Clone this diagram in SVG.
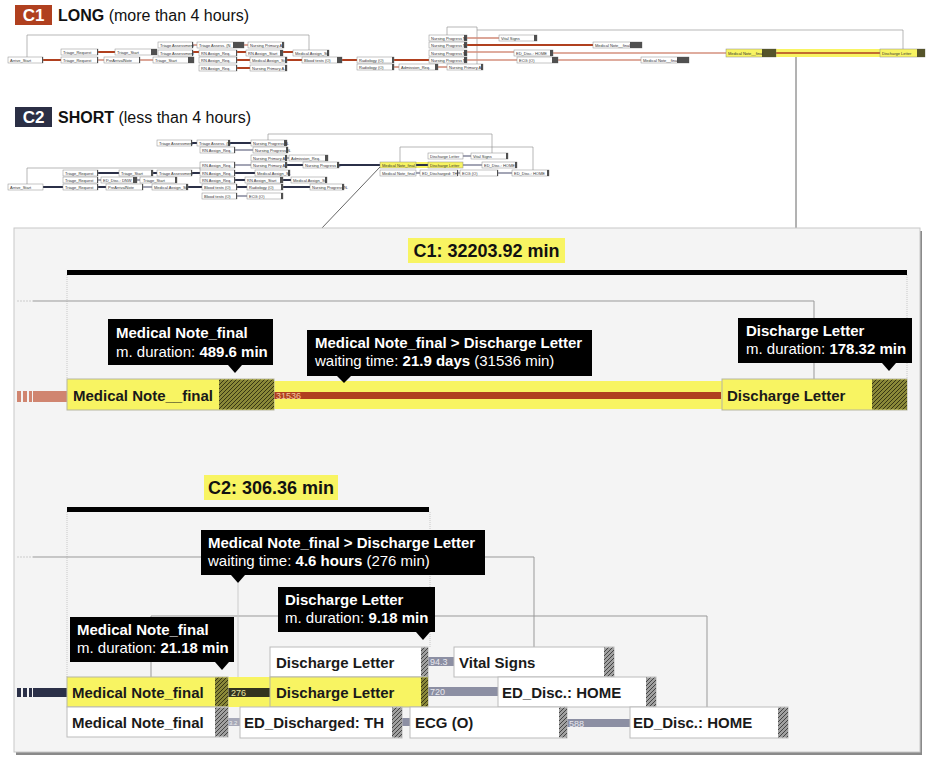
<svg xmlns="http://www.w3.org/2000/svg" width="926" height="761" viewBox="0 0 926 761">
<style>
.on{fill:#fff;stroke:#8a8a8a;stroke-width:0.5}
.oy{fill:#f8f462;stroke:#8a8a8a;stroke-width:0.5}
.oh{fill:#505050}
.ohy{fill:#55542a}
.ot{font-family:"Liberation Sans",Arial,sans-serif;font-size:4px;fill:#333}
.loop{fill:none;stroke:#9a9a9a;stroke-width:0.7}
.r1{fill:none;stroke:#B0401F;stroke-width:2}
.r2{fill:none;stroke:#D4907E;stroke-width:1.6}
.b1{fill:none;stroke:#2B3048;stroke-width:2}
.b2{fill:none;stroke:#8C8FA3;stroke-width:1.6}
.dn{fill:#fff;stroke:#bbb;stroke-width:1}
.dy{fill:#f8f462;stroke:#b5b5a0;stroke-width:1}
.dt{font-family:"Liberation Sans",Arial,sans-serif;font-size:15px;font-weight:bold;fill:#1a1a1a}
.tip{fill:#000}
.tt{font-family:"Liberation Sans",Arial,sans-serif;font-size:15px;fill:#fff}
.b{font-weight:bold}
.lbl{font-family:"Liberation Sans",Arial,sans-serif;font-size:10px;font-weight:bold;fill:#111}
.cl{font-family:"Liberation Sans",Arial,sans-serif;font-size:9px;fill:#e8e8ee}
.thin{fill:none;stroke:#999;stroke-width:1}
.dot{fill:none;stroke:#c8c8c8;stroke-width:1;stroke-dasharray:1 1}
.hd{font-family:"Liberation Sans",Arial,sans-serif;font-size:16px;fill:#111}
</style>
<defs>
<pattern id="hg" width="4" height="4" patternUnits="userSpaceOnUse"><rect width="4" height="4" fill="#a0a0a0"/><path d="M-1,1 l2,-2 M0,4 l4,-4 M3,5 l2,-2" stroke="#3a3a3a" stroke-width="0.9"/></pattern>
<pattern id="hy" width="4" height="4" patternUnits="userSpaceOnUse"><rect width="4" height="4" fill="#8a8838"/><path d="M-1,1 l2,-2 M0,4 l4,-4 M3,5 l2,-2" stroke="#2e2d10" stroke-width="0.9"/></pattern>
</defs>
<rect width="926" height="761" fill="#fff"/>

<!-- headers -->
<g id="header-c1">
<rect x="15" y="5" width="37" height="20" fill="#B0401F"/>
<text x="33.5" y="21" text-anchor="middle" font-family="Liberation Sans, Arial, sans-serif" font-size="17" font-weight="bold" fill="#fff">C1</text>
<text x="58" y="21" class="hd"><tspan class="b">LONG</tspan> (more than 4 hours)</text>
</g>
<g id="header-c2">
<rect x="15" y="107" width="37" height="20" fill="#2B2F45"/>
<text x="33.5" y="123" text-anchor="middle" font-family="Liberation Sans, Arial, sans-serif" font-size="17" font-weight="bold" fill="#fff">C2</text>
<text x="58" y="123" class="hd"><tspan class="b">SHORT</tspan> (less than 4 hours)</text>
</g>

<!-- overview C1 connectors -->
<g id="c1-overview-connectors">
<path class="loop" d="M27,57 V35 H309 V50"/>
<path class="loop" d="M447,35 V27 H477 V64"/>
<path class="loop" d="M477,30 H903 V49"/>
<path class="r1" d="M43,60 H61"/>
<path class="r1" d="M98,52 H115"/>
<path class="r2" d="M98,60 H104"/>
<path class="r2" d="M140,60 H153"/>
<path class="r2" d="M193,45 H197"/>
<path class="r1" d="M193,52 H199"/>
<path class="r2" d="M244,45 H248"/>
<path class="r1" d="M237,52 H246"/>
<path class="r1" d="M237,60 H250"/>
<path class="r1" d="M237,68 H250"/>
<path class="r1" d="M283,52 H293"/>
<path class="r1" d="M287,60 H302"/>
<path class="r1" d="M342,60 H357"/>
<path class="r1" d="M394,60 H429"/>
<path class="r2" d="M394,67 H399"/>
<path class="r2" d="M438,67 H447"/>
<path class="r2" d="M467,38 H499"/>
<path class="r1" d="M467,45 H593"/>
<path class="r2" d="M467,52 H514"/>
<path class="r2" d="M467,60 H517"/>
<path class="r2" d="M553,53 H726"/>
<path class="r2" d="M558,60 H641"/>
<rect x="776" y="49" width="104" height="8" fill="#f8f462"/>
<path d="M776,53 H880" stroke="#B0401F" stroke-width="1.5"/>
</g>

<!-- overview C1 nodes -->
<g id="o1-arrive"><rect class="on" x="8" y="57" width="35" height="6"/><rect class="oh" x="42" y="57" width="1" height="6"/><text class="ot" x="10" y="61.5">Arrive_Start</text></g>
<g id="o1-treq1"><rect class="on" x="61" y="49" width="37" height="6"/><rect class="oh" x="97" y="49" width="1" height="6"/><text class="ot" x="63" y="53.5">Triage_Request</text></g>
<g id="o1-treq2"><rect class="on" x="61" y="57" width="37" height="6"/><rect class="oh" x="97" y="57" width="1" height="6"/><text class="ot" x="63" y="61.5">Triage_Request</text></g>
<g id="o1-tstart1"><rect class="on" x="115" y="49" width="42" height="6"/><rect class="oh" x="151" y="49" width="6" height="6"/><text class="ot" x="117" y="53.5">Triage_Start</text></g>
<g id="o1-prearr"><rect class="on" x="104" y="57" width="36" height="6"/><rect class="oh" x="139" y="57" width="1" height="6"/><text class="ot" x="106" y="61.5">PreArrivalNote</text></g>
<g id="o1-tstart2"><rect class="on" x="153" y="57" width="41" height="6"/><rect class="oh" x="188" y="57" width="6" height="6"/><text class="ot" x="155" y="61.5">Triage_Start</text></g>
<g id="o1-tass1"><rect class="on" x="158" y="42" width="35" height="6"/><rect class="oh" x="192" y="42" width="1" height="6"/><text class="ot" x="160" y="46.5">Triage Assessment</text></g>
<g id="o1-tass2"><rect class="on" x="158" y="50" width="35" height="6"/><rect class="oh" x="192" y="50" width="1" height="6"/><text class="ot" x="160" y="54.5">Triage Assessment</text></g>
<g id="o1-tassn"><rect class="on" x="197" y="42" width="47" height="6"/><rect class="oh" x="233" y="42" width="11" height="6"/><text class="ot" x="199" y="46.5">Triage Assess. (N</text></g>
<g id="o1-rnreq1"><rect class="on" x="199" y="50" width="38" height="6"/><rect class="oh" x="236" y="50" width="1" height="6"/><text class="ot" x="201" y="54.5">RN Assign_Req.</text></g>
<g id="o1-rnreq2"><rect class="on" x="199" y="57" width="38" height="6"/><rect class="oh" x="236" y="57" width="1" height="6"/><text class="ot" x="201" y="61.5">RN Assign_Req.</text></g>
<g id="o1-rnreq3"><rect class="on" x="199" y="65" width="38" height="6"/><rect class="oh" x="236" y="65" width="1" height="6"/><text class="ot" x="201" y="69.5">RN Assign_Req.</text></g>
<g id="o1-nprim1"><rect class="on" x="248" y="42" width="36" height="6"/><rect class="oh" x="282" y="42" width="2" height="6"/><text class="ot" x="250" y="46.5">Nursing Primary A.</text></g>
<g id="o1-rnstart"><rect class="on" x="246" y="50" width="37" height="6"/><rect class="oh" x="280" y="50" width="3" height="6"/><text class="ot" x="248" y="54.5">RN Assign_Start</text></g>
<g id="o1-medas1"><rect class="on" x="250" y="57" width="37" height="6"/><rect class="oh" x="285" y="57" width="2" height="6"/><text class="ot" x="252" y="61.5">Medical Assign_St.</text></g>
<g id="o1-nprim2"><rect class="on" x="250" y="65" width="37" height="6"/><rect class="oh" x="285" y="65" width="2" height="6"/><text class="ot" x="252" y="69.5">Nursing Primary A.</text></g>
<g id="o1-medas2"><rect class="on" x="293" y="50" width="36" height="6"/><rect class="oh" x="327" y="50" width="2" height="6"/><text class="ot" x="295" y="54.5">Medical Assign_St.</text></g>
<g id="o1-blood"><rect class="on" x="302" y="57" width="40" height="6"/><rect class="oh" x="337" y="57" width="5" height="6"/><text class="ot" x="304" y="61.5">Blood tests (O)</text></g>
<g id="o1-rad1"><rect class="on" x="357" y="57" width="37" height="6"/><rect class="oh" x="392" y="57" width="2" height="6"/><text class="ot" x="359" y="61.5">Radiology (O)</text></g>
<g id="o1-rad2"><rect class="on" x="357" y="64" width="37" height="6"/><rect class="oh" x="392" y="64" width="2" height="6"/><text class="ot" x="359" y="68.5">Radiology (O)</text></g>
<g id="o1-admreq"><rect class="on" x="399" y="64" width="39" height="6"/><rect class="oh" x="435" y="64" width="3" height="6"/><text class="ot" x="401" y="68.5">Admission_Req.</text></g>
<g id="o1-nprim3"><rect class="on" x="447" y="64" width="36" height="6"/><rect class="oh" x="481" y="64" width="2" height="6"/><text class="ot" x="449" y="68.5">Nursing Primary A.</text></g>
<g id="o1-nprog1"><rect class="on" x="429" y="35" width="38" height="6"/><rect class="oh" x="464" y="35" width="3" height="6"/><text class="ot" x="431" y="39.5">Nursing Progress N.</text></g>
<g id="o1-nprog2"><rect class="on" x="429" y="42" width="38" height="6"/><rect class="oh" x="464" y="42" width="3" height="6"/><text class="ot" x="431" y="46.5">Nursing Progress N.</text></g>
<g id="o1-nprog3"><rect class="on" x="429" y="50" width="38" height="6"/><rect class="oh" x="464" y="50" width="3" height="6"/><text class="ot" x="431" y="54.5">Nursing Progress N.</text></g>
<g id="o1-nprog4"><rect class="on" x="429" y="57" width="38" height="6"/><rect class="oh" x="464" y="57" width="3" height="6"/><text class="ot" x="431" y="61.5">Nursing Progress N.</text></g>
<g id="o1-vital"><rect class="on" x="499" y="35" width="38" height="6"/><rect class="oh" x="534" y="35" width="3" height="6"/><text class="ot" x="501" y="39.5">Vital Signs</text></g>
<g id="o1-mnf1"><rect class="on" x="593" y="42" width="49" height="6"/><rect class="oh" x="630" y="42" width="12" height="6"/><text class="ot" x="595" y="46.5">Medical Note__final</text></g>
<g id="o1-edhome"><rect class="on" x="514" y="50" width="39" height="6"/><rect class="oh" x="550" y="50" width="3" height="6"/><text class="ot" x="516" y="54.5">ED_Disc.: HOME</text></g>
<g id="o1-ecg"><rect class="on" x="517" y="57" width="41" height="6"/><rect class="oh" x="552" y="57" width="6" height="6"/><text class="ot" x="519" y="61.5">ECG (O)</text></g>
<g id="o1-mnf2"><rect class="on" x="641" y="57" width="48" height="6"/><rect class="oh" x="677" y="57" width="12" height="6"/><text class="ot" x="643" y="61.5">Medical Note__final</text></g>
<g id="o1-mnf-hl"><rect class="oy" x="726" y="49" width="50" height="8"/><rect class="ohy" x="762" y="49" width="14" height="8"/><text class="ot" x="728" y="54.5">Medical Note__final</text></g>
<g id="o1-dl-hl"><rect class="oy" x="880" y="49" width="45" height="8"/><rect class="ohy" x="917" y="49" width="8" height="8"/><text class="ot" x="882" y="54.5">Discharge Letter</text></g>

<!-- overview C2 connectors -->
<g id="c2-overview-connectors">
<path class="loop" d="M27,184 V168 H200 V170"/>
<path class="loop" d="M268,140 V134 H492 V153"/>
<path class="loop" d="M400,162 V147 H533 V170"/>
<path class="b1" d="M43,187 H63"/>
<path class="b1" d="M98,173 H119"/>
<path class="b2" d="M98,180 H101"/>
<path class="b1" d="M98,187 H106"/>
<path class="b2" d="M137,180 H140"/>
<path class="b2" d="M143,187 H152"/>
<path class="b1" d="M153,173 H157"/>
<path class="b1" d="M192,143 H197"/>
<path class="b1" d="M192,173 H200"/>
<path class="b1" d="M188,187 H202"/>
<path class="b1" d="M230,143 H251"/>
<path class="b2" d="M235,150 H253"/>
<path class="b2" d="M235,165 H251"/>
<path class="b1" d="M235,173 H255"/>
<path class="b1" d="M235,180 H245"/>
<path class="b1" d="M237,187 H247"/>
<path class="b2" d="M237,196 H247"/>
<path class="b2" d="M287,158 H289"/>
<path class="b1" d="M287,165 H303"/>
<path class="b1" d="M283,180 H291"/>
<path class="b1" d="M283,187 H310"/>
<path class="b1" d="M339,165 H380" stroke-width="2.5"/>
<rect x="416" y="162" width="12" height="6" fill="#f8f462"/>
<path class="b1" d="M416,165 H428"/>
<path class="b2" d="M416,173 H420"/>
<path class="b2" d="M463,156 H471"/>
<path class="b2" d="M463,165 H482"/>
<path class="b2" d="M458,173 H460"/>
<path class="b2" d="M498,173 H512"/>
</g>

<!-- overview C2 nodes -->
<g id="o2-arrive"><rect class="on" x="8" y="184" width="35" height="6"/><text class="ot" x="10" y="188.5">Arrive_Start</text></g>
<g id="o2-treq1"><rect class="on" x="63" y="170" width="35" height="6"/><rect class="oh" x="97" y="170" width="1" height="6"/><text class="ot" x="65" y="174.5">Triage_Request</text></g>
<g id="o2-treq2"><rect class="on" x="63" y="177" width="35" height="6"/><rect class="oh" x="97" y="177" width="1" height="6"/><text class="ot" x="65" y="181.5">Triage_Request</text></g>
<g id="o2-treq3"><rect class="on" x="63" y="184" width="35" height="6"/><rect class="oh" x="97" y="184" width="1" height="6"/><text class="ot" x="65" y="188.5">Triage_Request</text></g>
<g id="o2-dnw"><rect class="on" x="101" y="177" width="36" height="6"/><rect class="oh" x="133" y="177" width="4" height="6"/><text class="ot" x="103" y="181.5">ED_Disc.: DNW</text></g>
<g id="o2-prearr"><rect class="on" x="106" y="184" width="37" height="6"/><rect class="oh" x="142" y="184" width="1" height="6"/><text class="ot" x="108" y="188.5">PreArrivalNote</text></g>
<g id="o2-tstart1"><rect class="on" x="119" y="170" width="34" height="6"/><rect class="oh" x="151" y="170" width="2" height="6"/><text class="ot" x="121" y="174.5">Triage_Start</text></g>
<g id="o2-tstart2"><rect class="on" x="140" y="177" width="37" height="6"/><rect class="oh" x="175" y="177" width="2" height="6"/><text class="ot" x="143" y="181.5">Triage_Start</text></g>
<g id="o2-medas1"><rect class="on" x="152" y="184" width="36" height="6"/><rect class="oh" x="186" y="184" width="2" height="6"/><text class="ot" x="154" y="188.5">Medical Assign_St.</text></g>
<g id="o2-tass1"><rect class="on" x="157" y="140" width="35" height="6"/><rect class="oh" x="191" y="140" width="1" height="6"/><text class="ot" x="159" y="144.5">Triage Assessment</text></g>
<g id="o2-tass2"><rect class="on" x="157" y="170" width="35" height="6"/><rect class="oh" x="191" y="170" width="1" height="6"/><text class="ot" x="159" y="174.5">Triage Assessment</text></g>
<g id="o2-tassn"><rect class="on" x="197" y="140" width="33" height="6"/><rect class="oh" x="228" y="140" width="2" height="6"/><text class="ot" x="199" y="144.5">Triage Assess. (N</text></g>
<g id="o2-rnreq1"><rect class="on" x="200" y="147" width="35" height="6"/><rect class="oh" x="234" y="147" width="1" height="6"/><text class="ot" x="202" y="151.5">RN Assign_Req.</text></g>
<g id="o2-rnreq2"><rect class="on" x="200" y="162" width="35" height="6"/><rect class="oh" x="234" y="162" width="1" height="6"/><text class="ot" x="202" y="166.5">RN Assign_Req.</text></g>
<g id="o2-rnreq3"><rect class="on" x="200" y="170" width="35" height="6"/><rect class="oh" x="234" y="170" width="1" height="6"/><text class="ot" x="202" y="174.5">RN Assign_Req.</text></g>
<g id="o2-rnreq4"><rect class="on" x="200" y="177" width="35" height="6"/><rect class="oh" x="234" y="177" width="1" height="6"/><text class="ot" x="202" y="181.5">RN Assign_Req.</text></g>
<g id="o2-blood1"><rect class="on" x="202" y="184" width="35" height="6"/><rect class="oh" x="236" y="184" width="1" height="6"/><text class="ot" x="204" y="188.5">Blood tests (O)</text></g>
<g id="o2-blood2"><rect class="on" x="202" y="193" width="35" height="6"/><rect class="oh" x="236" y="193" width="1" height="6"/><text class="ot" x="204" y="197.5">Blood tests (O)</text></g>
<g id="o2-nprog1"><rect class="on" x="251" y="140" width="36" height="6"/><rect class="oh" x="284" y="140" width="3" height="6"/><text class="ot" x="253" y="144.5">Nursing Progress N.</text></g>
<g id="o2-nprog2"><rect class="on" x="253" y="147" width="35" height="6"/><rect class="oh" x="286" y="147" width="2" height="6"/><text class="ot" x="255" y="151.5">Nursing Progress N.</text></g>
<g id="o2-nprim1"><rect class="on" x="251" y="155" width="36" height="6"/><rect class="oh" x="285" y="155" width="2" height="6"/><text class="ot" x="253" y="159.5">Nursing Primary A.</text></g>
<g id="o2-nprim2"><rect class="on" x="251" y="162" width="36" height="6"/><rect class="oh" x="285" y="162" width="2" height="6"/><text class="ot" x="253" y="166.5">Nursing Primary A.</text></g>
<g id="o2-medas2"><rect class="on" x="255" y="170" width="35" height="6"/><rect class="oh" x="288" y="170" width="2" height="6"/><text class="ot" x="257" y="174.5">Medical Assign_St.</text></g>
<g id="o2-rnstart"><rect class="on" x="245" y="177" width="38" height="6"/><rect class="oh" x="280" y="177" width="3" height="6"/><text class="ot" x="247" y="181.5">RN Assign_Start</text></g>
<g id="o2-rad"><rect class="on" x="247" y="184" width="36" height="6"/><rect class="oh" x="281" y="184" width="2" height="6"/><text class="ot" x="249" y="188.5">Radiology (O)</text></g>
<g id="o2-ecg1"><rect class="on" x="247" y="193" width="36" height="6"/><rect class="oh" x="281" y="193" width="2" height="6"/><text class="ot" x="249" y="197.5">ECG (O)</text></g>
<g id="o2-admreq"><rect class="on" x="289" y="155" width="39" height="6"/><rect class="oh" x="325" y="155" width="3" height="6"/><text class="ot" x="291" y="159.5">Admission_Req.</text></g>
<g id="o2-nprog3"><rect class="on" x="303" y="162" width="36" height="6"/><rect class="oh" x="337" y="162" width="2" height="6"/><text class="ot" x="305" y="166.5">Nursing Progress N.</text></g>
<g id="o2-medas3"><rect class="on" x="291" y="177" width="36" height="6"/><rect class="oh" x="325" y="177" width="2" height="6"/><text class="ot" x="293" y="181.5">Medical Assign_St.</text></g>
<g id="o2-nprog4"><rect class="on" x="310" y="184" width="34" height="6"/><rect class="oh" x="342" y="184" width="2" height="6"/><text class="ot" x="312" y="188.5">Nursing Progress N.</text></g>
<g id="o2-mnf-hl"><rect class="oy" x="380" y="162" width="36" height="6"/><text class="ot" x="382" y="166.5">Medical Note_final</text></g>
<g id="o2-mnf"><rect class="on" x="380" y="170" width="36" height="6"/><text class="ot" x="382" y="174.5">Medical Note_final</text></g>
<g id="o2-dl"><rect class="on" x="428" y="153" width="35" height="6"/><text class="ot" x="430" y="157.5">Discharge Letter</text></g>
<g id="o2-dl-hl"><rect class="oy" x="428" y="162" width="35" height="6"/><text class="ot" x="430" y="166.5">Discharge Letter</text></g>
<g id="o2-edth"><rect class="on" x="420" y="170" width="38" height="6"/><rect class="oh" x="457" y="170" width="1" height="6"/><text class="ot" x="422" y="174.5">ED_Discharged: TH</text></g>
<g id="o2-vital"><rect class="on" x="471" y="153" width="37" height="6"/><rect class="oh" x="506" y="153" width="2" height="6"/><text class="ot" x="473" y="157.5">Vital Signs</text></g>
<g id="o2-edhome1"><rect class="on" x="482" y="162" width="35" height="6"/><rect class="oh" x="515" y="162" width="2" height="6"/><text class="ot" x="484" y="166.5">ED_Disc.: HOME</text></g>
<g id="o2-ecg2"><rect class="on" x="460" y="170" width="38" height="6"/><rect class="oh" x="497" y="170" width="1" height="6"/><text class="ot" x="462" y="174.5">ECG (O)</text></g>
<g id="o2-edhome2"><rect class="on" x="512" y="170" width="37" height="6"/><rect class="oh" x="547" y="170" width="2" height="6"/><text class="ot" x="514" y="174.5">ED_Disc.: HOME</text></g>

<!-- zoom link lines -->
<g id="zoom-links">
<path d="M796,57 V229" stroke="#666" stroke-width="1"/>
<path d="M380,167 L321,229" stroke="#666" stroke-width="1"/>
</g>

<!-- detail panel -->
<g id="panel">
<rect x="16" y="231" width="906" height="524" fill="#8a8a8a"/>
<rect x="14" y="228" width="906" height="524" fill="#f4f4f4" stroke="#c8c8c8" stroke-width="1"/>
</g>

<!-- C1 detail connectors -->
<g id="c1-detail-connectors">
<path class="dot" d="M67,275 V379"/>
<path class="dot" d="M907,275 V379"/>
<path d="M17,301 H33" stroke="#ccc" stroke-width="1" stroke-dasharray="2 1"/>
<path class="thin" d="M33,301 H814 V379"/>
<rect x="17" y="391" width="4" height="11" fill="#D08570"/>
<rect x="23" y="391" width="4" height="11" fill="#D08570"/>
<rect x="29" y="391" width="3" height="11" fill="#D08570"/>
<rect x="33" y="391" width="34" height="11" fill="#D08570"/>
<rect x="274" y="381" width="449" height="28" fill="#f8f462"/>
<rect x="274" y="392" width="447" height="7" fill="#B0401F"/>
<text x="276" y="399" font-family="Liberation Sans, Arial, sans-serif" font-size="9" fill="#f4c8a0">31536</text>
</g>

<!-- C1 detail -->
<g id="c1-total">
<rect x="408" y="238" width="157" height="25" fill="#f8f462"/>
<text x="486.5" y="257" text-anchor="middle" font-family="Liberation Sans, Arial, sans-serif" font-size="18" font-weight="bold" fill="#111">C1: 32203.92 min</text>
<rect x="67" y="270" width="840" height="5" fill="#000"/>
</g>
<g id="d1-mnf">
<rect class="dy" x="67" y="379" width="207" height="31"/>
<rect x="219" y="379.5" width="55" height="30" fill="url(#hy)"/>
<text class="dt" x="73" y="401">Medical Note__final</text>
</g>
<g id="d1-dl">
<rect class="dy" x="722" y="379" width="185" height="31"/>
<rect x="872" y="379.5" width="35" height="30" fill="url(#hy)"/>
<text class="dt" x="727" y="401">Discharge Letter</text>
</g>
<g id="tip1">
<rect class="tip" x="108" y="319" width="165" height="46"/>
<path class="tip" d="M228,365 L235,373 L242,365 Z"/>
<text class="tt b" x="116" y="338">Medical Note_final</text>
<text class="tt" x="116" y="357">m. duration: <tspan class="b">489.6 min</tspan></text>
</g>
<g id="tip2">
<rect class="tip" x="307" y="330" width="285" height="46"/>
<path class="tip" d="M337,376 L344,383 L351,376 Z"/>
<text class="tt b" x="315" y="348">Medical Note_final &gt; Discharge Letter</text>
<text class="tt" x="315" y="366">waiting time: <tspan class="b">21.9 days</tspan> (31536 min)</text>
</g>
<g id="tip3">
<rect class="tip" x="738" y="318" width="174" height="45"/>
<path class="tip" d="M882,363 L889,371 L896,363 Z"/>
<text class="tt b" x="746" y="336">Discharge Letter</text>
<text class="tt" x="746" y="354">m. duration: <tspan class="b">178.32 min</tspan></text>
</g>

<!-- C2 detail connectors -->
<g id="c2-detail-connectors">
<path class="dot" d="M67,512 V677"/>
<path class="dot" d="M430,512 V647"/>
<path d="M17,557 H33" stroke="#ccc" stroke-width="1" stroke-dasharray="2 1"/>
<path class="thin" d="M33,557 H534 V648"/>
<path class="thin" d="M151,677 V616 H707 V707"/>
<path d="M238,583 V677" stroke="#ccc" stroke-width="1"/>
<rect x="17" y="688" width="4" height="9" fill="#2B3048"/>
<rect x="23" y="688" width="4" height="9" fill="#2B3048"/>
<rect x="29" y="688" width="3" height="9" fill="#2B3048"/>
<rect x="33" y="688" width="34" height="9" fill="#2B3048"/>
<rect x="228" y="677" width="42" height="30" fill="#f8f462"/>
<rect x="228" y="688" width="42" height="9" fill="#33331f"/>
<text x="231" y="695.5" font-family="Liberation Sans, Arial, sans-serif" font-size="9" fill="#e8e6a0">276</text>
<rect x="428" y="657" width="27" height="9" fill="#8C8FA3"/>
<text x="430" y="665" class="cl">94.3</text>
<rect x="428" y="687" width="70" height="9" fill="#8C8FA3"/>
<text x="430" y="695" class="cl">720</text>
<rect x="228" y="718" width="12" height="8" fill="#a6a8b8"/>
<text x="229" y="725" font-family="Liberation Sans, Arial, sans-serif" font-size="6" fill="#eee">3.2</text>
<rect x="402" y="718" width="8" height="8" fill="#8C8FA3"/>
<rect x="567" y="719" width="64" height="8" fill="#8C8FA3"/>
<text x="569" y="726.5" class="cl">588</text>
</g>

<!-- C2 detail -->
<g id="c2-total">
<rect x="204" y="475" width="134" height="25" fill="#f8f462"/>
<text x="271" y="494" text-anchor="middle" font-family="Liberation Sans, Arial, sans-serif" font-size="18" font-weight="bold" fill="#111">C2: 306.36 min</text>
<rect x="67" y="507" width="362" height="5" fill="#000"/>
</g>
<g id="d2-dl1">
<rect class="dn" x="270" y="647" width="158" height="30"/>
<rect x="421" y="647.5" width="7" height="29" fill="url(#hg)"/>
<text class="dt" x="276" y="668">Discharge Letter</text>
</g>
<g id="d2-vital">
<rect class="dn" x="454" y="647" width="160" height="30"/>
<rect x="604" y="647.5" width="10" height="29" fill="url(#hg)"/>
<text class="dt" x="459" y="668">Vital Signs</text>
</g>
<g id="d2-mnf-hl">
<rect class="dy" x="67" y="677" width="161" height="30"/>
<rect x="215" y="677.5" width="13" height="29" fill="url(#hy)"/>
<text class="dt" x="72" y="698">Medical Note_final</text>
</g>
<g id="d2-dl-hl">
<rect class="dy" x="270" y="677" width="158" height="30"/>
<rect x="421" y="677.5" width="7" height="29" fill="url(#hy)"/>
<text class="dt" x="276" y="698">Discharge Letter</text>
</g>
<g id="d2-edhome1">
<rect class="dn" x="498" y="677" width="158" height="30"/>
<rect x="646" y="677.5" width="10" height="29" fill="url(#hg)"/>
<text class="dt" x="502" y="698">ED_Disc.: HOME</text>
</g>
<g id="d2-mnf">
<rect class="dn" x="67" y="707" width="161" height="30"/>
<rect x="215" y="707.5" width="13" height="29" fill="url(#hg)"/>
<text class="dt" x="72" y="728">Medical Note_final</text>
</g>
<g id="d2-edth">
<rect class="dn" x="240" y="707" width="162" height="31"/>
<rect x="392" y="707.5" width="10" height="30" fill="url(#hg)"/>
<text class="dt" x="244" y="728">ED_Discharged: TH</text>
</g>
<g id="d2-ecg">
<rect class="dn" x="410" y="707" width="157" height="31"/>
<rect x="559" y="707.5" width="8" height="30" fill="url(#hg)"/>
<text class="dt" x="415" y="728">ECG (O)</text>
</g>
<g id="d2-edhome2">
<rect class="dn" x="630" y="707" width="158" height="31"/>
<rect x="778" y="707.5" width="10" height="30" fill="url(#hg)"/>
<text class="dt" x="633" y="728">ED_Disc.: HOME</text>
</g>
<g id="tip4">
<rect class="tip" x="201" y="530" width="284" height="45"/>
<path class="tip" d="M231,575 L238,583 L245,575 Z"/>
<text class="tt b" x="208" y="548">Medical Note_final &gt; Discharge Letter</text>
<text class="tt" x="208" y="566">waiting time: <tspan class="b">4.6 hours</tspan> (276 min)</text>
</g>
<g id="tip5">
<rect class="tip" x="278" y="587" width="157" height="45"/>
<path class="tip" d="M416,632 L423,640 L430,632 Z"/>
<text class="tt b" x="285" y="605">Discharge Letter</text>
<text class="tt" x="285" y="623">m. duration: <tspan class="b">9.18 min</tspan></text>
</g>
<g id="tip6">
<rect class="tip" x="70" y="617" width="164" height="45"/>
<path class="tip" d="M215,662 L222,670 L229,662 Z"/>
<text class="tt b" x="77" y="635">Medical Note_final</text>
<text class="tt" x="77" y="653">m. duration: <tspan class="b">21.18 min</tspan></text>
</g>
</svg>
